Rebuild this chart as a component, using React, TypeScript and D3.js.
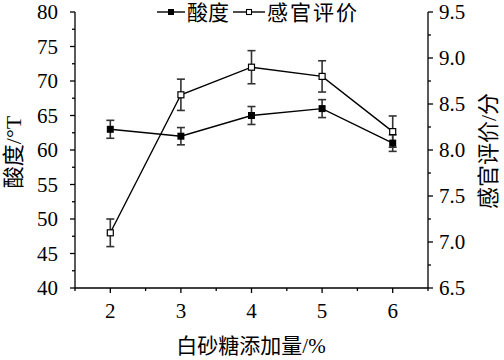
import React from "react";
import * as d3 from "d3";

const sugar = [2, 3, 4, 5, 6];
const acidity = [63.0, 62.0, 65.0, 66.0, 61.0];
const acidityErr = [1.3, 1.25, 1.3, 1.3, 1.2];
const sensory = [7.1, 8.6, 8.9, 8.8, 8.2];
const sensoryErr = [0.15, 0.17, 0.18, 0.17, 0.17];
const leftTicks = [40, 45, 50, 55, 60, 65, 70, 75, 80];
const rightTicks = [6.5, 7.0, 7.5, 8.0, 8.5, 9.0, 9.5];
const xTicks = [2, 3, 4, 5, 6];
const legendLabels = ["酸度", "感官评价"];
const xTitle = "白砂糖添加量/%";
const yLeftTitle = "酸度/°T";
const yRightTitle = "感官评价/分";

const W = 504, H = 360;
const L = 75, R = 428, T = 12, B = 288;
const FONT = "'Liberation Serif', 'Times New Roman', serif";
const CJK = "'Liberation Serif', 'Noto Sans CJK SC', serif";

export default function App() {
  const x = d3.scaleLinear().domain([1.5, 6.5]).range([L, R]);
  const yL = d3.scaleLinear().domain([40, 80]).range([B, T]);
  const yR = d3.scaleLinear().domain([6.5, 9.5]).range([B, T]);
  const leftMinor = d3.range(40, 80.01, 2.5);
  const rightMinor = d3.range(6.5, 9.51, 0.25);
  const xMinor = d3.range(1.5, 6.51, 0.5);
  const lineL = d3.line<number>().x((_, i) => x(sugar[i])).y((d) => yL(d));
  const lineR = d3.line<number>().x((_, i) => x(sugar[i])).y((d) => yR(d));
  const ms = 7;
  const cap = 4;

  const errBar = (cx: number, y1: number, y2: number, key: string) => (
    <g key={key} stroke="#333" strokeWidth={1.6}>
      <line x1={cx} x2={cx} y1={y1} y2={y2} />
      <line x1={cx - cap} x2={cx + cap} y1={y1} y2={y1} />
      <line x1={cx - cap} x2={cx + cap} y1={y2} y2={y2} />
    </g>
  );

  const numStyle = { fontFamily: FONT, fontSize: "21px", fill: "#000" };
  const cjkStyle = { fontFamily: CJK, fontSize: "21px", fill: "#000" };

  return (
    <svg width={W} height={H} style={{ position: "absolute", left: 0, top: 0, background: "#fff" }}>
      <g stroke="#000" strokeWidth={1.3} fill="none">
        <line x1={L} x2={L} y1={T} y2={B} />
        <line x1={R} x2={R} y1={T} y2={B} />
        <line x1={L} x2={R} y1={B} y2={B} />
        {leftMinor.map((v) => (
          <line key={"lm" + v} x1={L - (v % 5 === 0 ? 5 : 3)} x2={L} y1={yL(v)} y2={yL(v)} />
        ))}
        {rightMinor.map((v) => (
          <line key={"rm" + v} x1={R} x2={R + (Math.abs((v * 2) % 1) < 1e-6 ? 5 : 3)} y1={yR(v)} y2={yR(v)} />
        ))}
        {xMinor.map((v) => (
          <line key={"xm" + v} x1={x(v)} x2={x(v)} y1={B} y2={B + (Number.isInteger(v) ? 5 : 3)} />
        ))}
      </g>
      {leftTicks.map((v) => (
        <text key={"lt" + v} x={L - 17} y={yL(v) + 7} textAnchor="end" style={numStyle}>{String(v)}</text>
      ))}
      {rightTicks.map((v) => (
        <text key={"rt" + v} x={R + 11} y={yR(v) + 7} textAnchor="start" style={numStyle}>{v.toFixed(1)}</text>
      ))}
      {xTicks.map((v) => (
        <text key={"xt" + v} x={x(v)} y={318} textAnchor="middle" style={numStyle}>{String(v)}</text>
      ))}
      <text x={251} y={346} textAnchor="middle" dominantBaseline="central" style={{ ...cjkStyle, fontSize: "21px" }}>{xTitle}</text>
      <text transform={`translate(13,152) rotate(-90)`} textAnchor="middle" dominantBaseline="central" style={{ ...cjkStyle, fontSize: "22px" }}>{yLeftTitle}</text>
      <text transform={`translate(488,151) rotate(-90)`} textAnchor="middle" dominantBaseline="central" style={{ ...cjkStyle, fontSize: "22px" }}>{yRightTitle}</text>

      {sugar.map((s, i) => errBar(x(s), yL(acidity[i] + acidityErr[i]), yL(acidity[i] - acidityErr[i]), "ea" + i))}
      {sugar.map((s, i) => errBar(x(s), yR(sensory[i] + sensoryErr[i]), yR(sensory[i] - sensoryErr[i]), "es" + i))}

      <path d={lineL(acidity) || ""} fill="none" stroke="#000" strokeWidth={1.4} />
      <path d={lineR(sensory) || ""} fill="none" stroke="#000" strokeWidth={1.4} />

      {sugar.map((s, i) => (
        <rect key={"ma" + i} x={x(s) - ms / 2} y={yL(acidity[i]) - ms / 2} width={ms} height={ms} fill="#000" />
      ))}
      {sugar.map((s, i) => (
        <rect key={"msr" + i} x={x(s) - ms / 2 + 0.5} y={yR(sensory[i]) - ms / 2 + 0.5} width={ms - 1} height={ms - 1} fill="#fff" stroke="#000" strokeWidth={1.2} />
      ))}

      <g>
        <line x1={157} x2={185} y1={12} y2={12} stroke="#000" strokeWidth={1.4} />
        <rect x={171 - 3} y={12 - 3} width={6} height={6} fill="#000" />
        <text x={187} y={13} dominantBaseline="central" style={cjkStyle}>{legendLabels[0]}</text>
        <line x1={233} x2={265} y1={12} y2={12} stroke="#000" strokeWidth={1.4} />
        <rect x={249 - 2.5} y={12 - 2.5} width={5} height={5} fill="#fff" stroke="#000" strokeWidth={1.1} />
        <text x={267} y={13} dominantBaseline="central" style={{ ...cjkStyle, letterSpacing: "2px" }}>{legendLabels[1]}</text>
      </g>
    </svg>
  );
}
